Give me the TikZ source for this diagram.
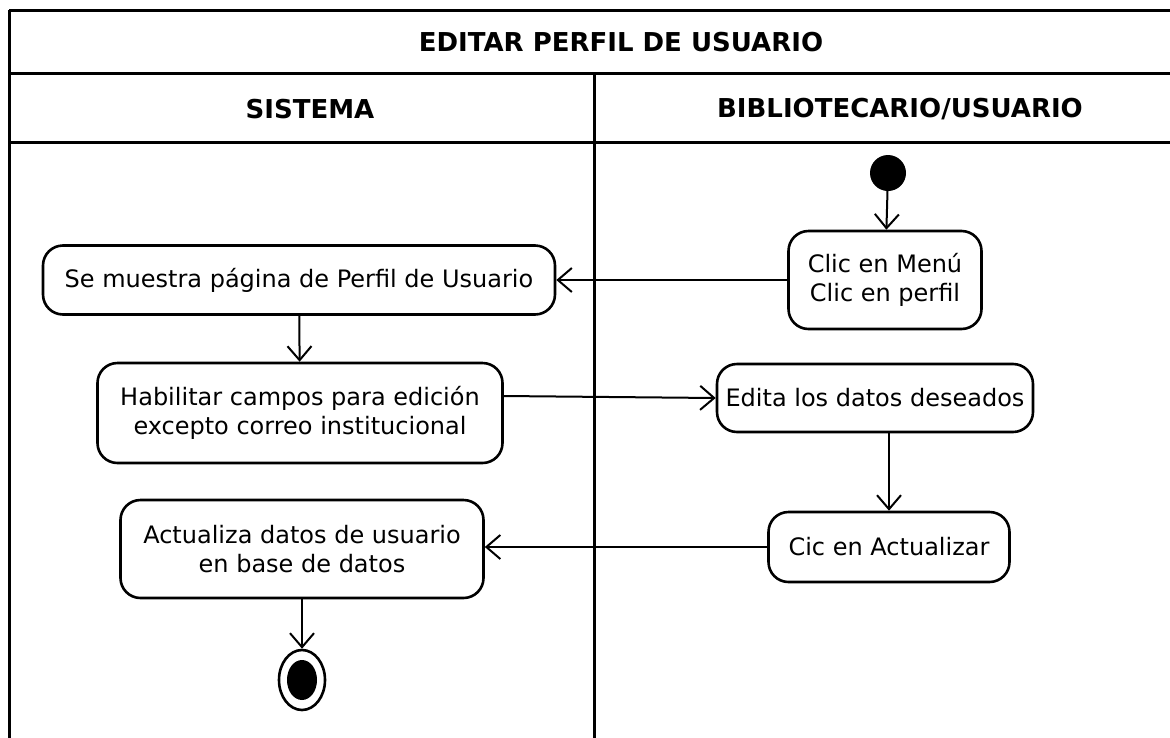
\documentclass[tikz,border=0pt]{standalone}
\usepackage{fontspec}
\setmainfont{DejaVu Sans}
\usetikzlibrary{arrows.meta,shapes.geometric}
\begin{document}
\begin{tikzpicture}[x=1pt,y=-1pt,
  act/.style={draw,line width=2.6pt,rounded corners=20pt,align=center,inner sep=0pt,font=\fontsize{24}{29}\selectfont},
  arr/.style={line width=2pt,-{Straight Barb[length=14pt,width=24pt,line width=2pt]}},
  frame/.style={line width=3pt},
  hdr/.style={font=\bfseries\fontsize{26}{30}\selectfont}]
\useasboundingbox (0,0) rectangle (1170,737);
% frame
\draw[frame] (9,10) -- (1172,10);
\draw[frame] (9,73) -- (1172,73);
\draw[frame] (9,142) -- (1172,142);
\draw[frame] (9,10) -- (9,740);
\draw[frame] (594,73) -- (594,740);
\node[hdr] (title) at (621,42) {EDITAR PERFIL DE USUARIO};
\node[hdr] (sis) at (310,109) {SISTEMA};
\node[hdr] (bib) at (900,109) {BIBLIOTECARIO/USUARIO};
% nodes
\node[circle,fill=black,minimum size=36pt,inner sep=0pt] (ini) at (888,173) {};
\node[act,minimum width=193pt,minimum height=98pt] (clic) at (885,280) {Clic en Menú\\Clic en perfil};
\node[act,minimum width=512pt,minimum height=69pt] (mue) at (299,280) {Se muestra página de Perfil de Usuario};
\node[act,minimum width=405pt,minimum height=100pt] (hab) at (300,413) {Habilitar campos para edición\\excepto correo institucional};
\node[act,minimum width=316pt,minimum height=68pt] (edi) at (875,398) {Edita los datos deseados};
\node[act,minimum width=241pt,minimum height=70pt] (cic) at (889,547) {Cic en Actualizar};
\node[act,minimum width=363pt,minimum height=98pt] (act) at (302,549) {Actualiza datos de usuario\\en base de datos};
\node[ellipse,draw,line width=2.6pt,minimum width=46pt,minimum height=60pt,inner sep=0pt] (fin) at (302,680) {};
\node[ellipse,fill=black,minimum width=30pt,minimum height=40pt,inner sep=0pt] (finin) at (fin.center) {};
% arrows
\draw[arr] (ini) -- (clic);
\draw[arr] (clic.west) -- (mue.east);
\draw[arr] (mue) -- (hab);
\draw[arr] ([yshift=17pt]hab.east) -- (edi.west);
\draw[arr] ([xshift=14pt]edi.south) -- ([xshift=14pt]edi.south |- cic.north);
\draw[arr] (cic.west) -- (cic.west -| act.east);
\draw[arr] (act) -- (fin);
\end{tikzpicture}
\end{document}
